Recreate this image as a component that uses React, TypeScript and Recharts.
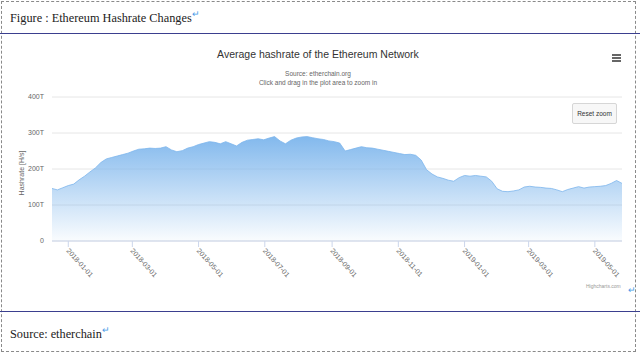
import React from "react";
import { AreaChart, Area, XAxis, YAxis, CartesianGrid } from "recharts";

const dates: string[] = [
  "2017-12-17", "2017-12-22", "2017-12-27",
  "2018-01-01", "2018-01-06", "2018-01-11", "2018-01-16", "2018-01-21", "2018-01-26", "2018-01-31",
  "2018-02-05", "2018-02-10", "2018-02-15", "2018-02-20", "2018-02-25",
  "2018-03-02", "2018-03-07", "2018-03-12", "2018-03-17", "2018-03-22", "2018-03-27",
  "2018-04-01", "2018-04-06", "2018-04-11", "2018-04-16", "2018-04-21", "2018-04-26",
  "2018-05-01", "2018-05-06", "2018-05-11", "2018-05-16", "2018-05-21", "2018-05-26", "2018-05-31",
  "2018-06-05", "2018-06-10", "2018-06-15", "2018-06-20", "2018-06-25", "2018-06-30",
  "2018-07-05", "2018-07-10", "2018-07-15", "2018-07-20", "2018-07-25", "2018-07-30",
  "2018-08-04", "2018-08-09", "2018-08-14", "2018-08-19", "2018-08-24", "2018-08-29",
  "2018-09-03", "2018-09-08", "2018-09-13", "2018-09-18", "2018-09-23", "2018-09-28",
  "2018-10-03", "2018-10-08", "2018-10-13", "2018-10-18", "2018-10-23", "2018-10-28",
  "2018-11-02", "2018-11-07", "2018-11-12", "2018-11-17", "2018-11-22", "2018-11-27",
  "2018-12-02", "2018-12-07", "2018-12-12", "2018-12-17", "2018-12-22", "2018-12-27",
  "2019-01-01", "2019-01-06", "2019-01-11", "2019-01-16", "2019-01-21", "2019-01-26", "2019-01-31",
  "2019-02-05", "2019-02-10", "2019-02-15", "2019-02-20", "2019-02-25",
  "2019-03-02", "2019-03-07", "2019-03-12", "2019-03-17", "2019-03-22", "2019-03-27",
  "2019-04-01", "2019-04-06", "2019-04-11", "2019-04-16", "2019-04-21", "2019-04-26",
  "2019-05-01", "2019-05-06", "2019-05-11", "2019-05-16", "2019-05-21", "2019-05-26",
];

// Average hashrate in TH/s
const hashrate: number[] = [
  146, 142, 148,
  154, 158, 170, 180, 192, 203, 218,
  228, 232, 236, 240, 244,
  250, 255, 256, 258, 257, 258,
  262, 253, 248, 251, 258, 262,
  268, 272, 276, 274, 270, 276, 270,
  264, 274, 280, 282, 284, 281,
  286, 290, 278, 270, 280, 286,
  289, 290, 287, 284, 282, 278,
  276, 272, 250, 254, 258, 262,
  259, 258, 255, 252, 249, 246,
  243, 240, 241, 238, 225, 198,
  186, 178, 174, 169, 166, 176,
  182, 180, 182, 180, 178, 166, 145,
  138, 137, 139, 142, 150,
  152, 150, 149, 147, 146, 142,
  137, 143, 147, 151, 147, 150,
  151, 152, 154, 160, 168, 160,
];

const xTickLabels: string[] = [
  "2018-01-01", "2018-03-01", "2018-05-01", "2018-07-01", "2018-09-01",
  "2018-11-01", "2019-01-01", "2019-03-01", "2019-05-01",
];

const yTicks: number[] = [0, 100, 200, 300, 400];

const data = dates.map((d, i) => ({ t: Date.parse(d), v: hashrate[i] }));
const xTicks = xTickLabels.map((d) => Date.parse(d));

const fmtDate = (t: number) => new Date(t).toISOString().slice(0, 10);

const XTick = (props: any) => {
  const { x, y, payload } = props;
  return (
    <text
      x={x}
      y={y}
      transform={`rotate(48, ${x}, ${y})`}
      textAnchor="start"
      fontSize={7}
      fill="#666"
      fontFamily="'Liberation Sans', Arial, sans-serif"
      dy={3}
    >
      {fmtDate(payload.value)}
    </text>
  );
};

const arrow = (extra: React.CSSProperties = {}) => (
  <span style={{ color: "#4a9ae8", fontSize: 9, verticalAlign: "super", ...extra }}>↵</span>
);

export default function App() {
  const sans = "'Liberation Sans', Arial, sans-serif";
  return (
    <div
      style={{
        position: "absolute",
        left: 0,
        top: 0,
        width: 640,
        height: 355,
        background: "#fff",
        overflow: "hidden",
      }}
    >
      {/* dashed border */}
      <div
        style={{
          position: "absolute",
          left: 1,
          top: 1,
          width: 635,
          height: 351,
          border: "1px dashed #8a8a8a",
          boxSizing: "border-box",
        }}
      />
      {/* navy rules */}
      <div style={{ position: "absolute", left: 0, top: 33, width: 640, height: 1, background: "#3b3f8f" }} />
      <div style={{ position: "absolute", left: 0, top: 311, width: 640, height: 1, background: "#3b3f8f" }} />

      <div
        style={{
          position: "absolute",
          left: 10,
          top: 9,
          fontFamily: "'Liberation Serif', 'Times New Roman', serif",
          fontSize: 12.3,
          color: "#222",
          whiteSpace: "nowrap",
        }}
      >
        Figure : Ethereum Hashrate Changes{arrow()}
      </div>
      <div
        style={{
          position: "absolute",
          left: 10,
          top: 325,
          fontFamily: "'Liberation Serif', 'Times New Roman', serif",
          fontSize: 12.3,
          color: "#222",
          whiteSpace: "nowrap",
        }}
      >
        Source: etherchain{arrow()}
      </div>

      <div style={{ position: "absolute", left: 0, top: 0 }}>
        <AreaChart
          width={640}
          height={355}
          data={data}
          margin={{ top: 97, right: 18, bottom: 54, left: 12 }}
        >
          <defs>
            <linearGradient id="hashFill" x1="0" y1="0" x2="0" y2="1">
              <stop offset="0%" stopColor="#7cb5ec" stopOpacity={0.95} />
              <stop offset="100%" stopColor="#7cb5ec" stopOpacity={0.04} />
            </linearGradient>
          </defs>
          <CartesianGrid vertical={false} stroke="#e6e6e6" strokeWidth={1} />
          <XAxis
            dataKey="t"
            type="number"
            scale="time"
            domain={[Date.parse("2017-12-17"), Date.parse("2019-05-26")]}
            ticks={xTicks}
            tick={<XTick />}
            tickLine={{ stroke: "#ccd6eb" }}
            tickSize={6}
            axisLine={{ stroke: "#ccd6eb" }}
            height={60}
            interval={0}
            allowDataOverflow
          />
          <YAxis
            type="number"
            domain={[0, 400]}
            ticks={yTicks}
            tickFormatter={(v: number) => (v === 0 ? "0" : `${v}T`)}
            tick={{ fontSize: 7, fill: "#666", fontFamily: sans }}
            axisLine={false}
            tickLine={false}
            width={40}
            interval={0}
          />
          <Area
            type="linear"
            dataKey="v"
            stroke="#7cb5ec"
            strokeWidth={0.8}
            fill="url(#hashFill)"
            fillOpacity={1}
            isAnimationActive={false}
            dot={false}
            activeDot={false}
          />
        </AreaChart>
      </div>

      {/* chart title & subtitles */}
      <div
        style={{
          position: "absolute",
          left: 0,
          width: 636,
          top: 48,
          textAlign: "center",
          fontFamily: sans,
          fontSize: 10.5,
          color: "#333",
        }}
      >
        Average hashrate of the Ethereum Network
      </div>
      <div
        style={{
          position: "absolute",
          left: 0,
          width: 636,
          top: 69,
          textAlign: "center",
          fontFamily: sans,
          fontSize: 6.5,
          lineHeight: "9px",
          color: "#666",
        }}
      >
        Source: etherchain.org
        <br />
        Click and drag in the plot area to zoom in
      </div>

      {/* y axis title */}
      <div
        style={{
          position: "absolute",
          left: 21,
          top: 173,
          transform: "translate(-50%, -50%) rotate(-90deg)",
          fontFamily: sans,
          fontSize: 7,
          color: "#666",
          whiteSpace: "nowrap",
        }}
      >
        Hashrate [H/s]
      </div>

      {/* hamburger menu */}
      <div style={{ position: "absolute", left: 612, top: 54, width: 9 }}>
        {[0, 1, 2].map((i) => (
          <div key={i} style={{ height: 1.5, background: "#666", marginBottom: 1.6 }} />
        ))}
      </div>

      {/* reset zoom button */}
      <div
        style={{
          position: "absolute",
          left: 572,
          top: 103,
          width: 45,
          height: 21,
          boxSizing: "border-box",
          background: "#f7f7f7",
          border: "1px solid #d6d6d6",
          borderRadius: 2,
          fontFamily: sans,
          fontSize: 6.5,
          color: "#333",
          display: "flex",
          alignItems: "center",
          justifyContent: "center",
        }}
      >
        Reset zoom
      </div>

      {/* credits */}
      <div
        style={{
          position: "absolute",
          left: 586,
          top: 283,
          fontFamily: sans,
          fontSize: 5,
          color: "#999",
          whiteSpace: "nowrap",
        }}
      >
        Highcharts.com
      </div>
      <div style={{ position: "absolute", left: 628, top: 279 }}>{arrow({ verticalAlign: "baseline" })}</div>
    </div>
  );
}
